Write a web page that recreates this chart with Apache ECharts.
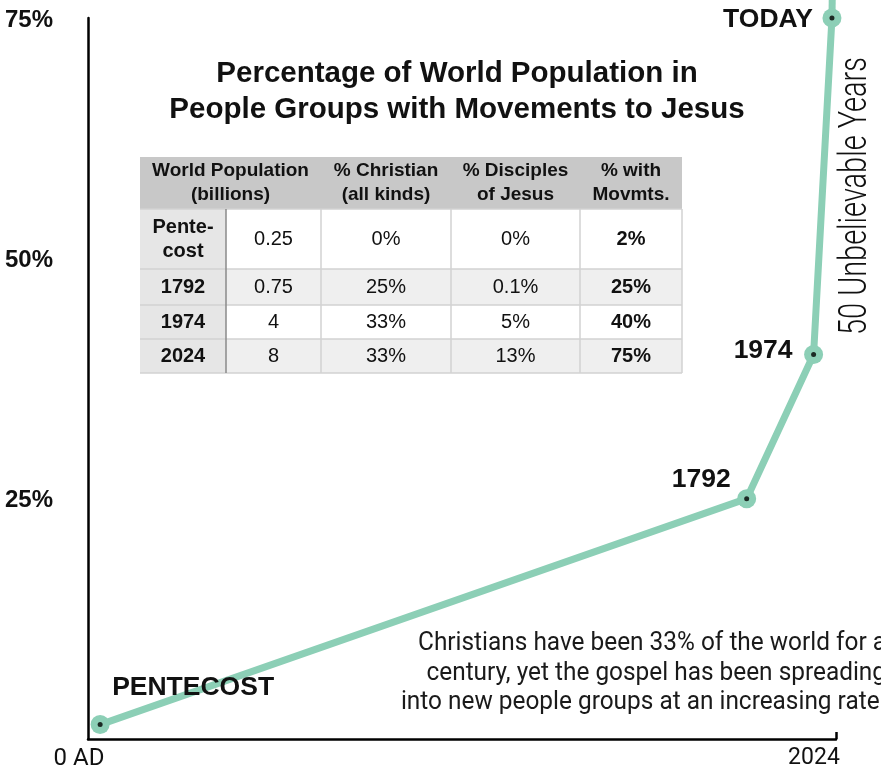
<!DOCTYPE html>
<html>
<head>
<meta charset="utf-8">
<script src="https://cdn.jsdelivr.net/npm/echarts@6/dist/echarts.min.js"></script>
<style>
html,body{margin:0;padding:0;background:#fff;}
#chart{width:881px;height:771px;}
</style>
</head>
<body>
<div id="chart"></div>
<script>
// ---- data ----
const eventNames = ['PENTECOST', '1792', '1974', 'TODAY'];
const eventYears = [33, 1792, 1974, 2024];
const movementPct = [1.5, 25, 40, 75];
// the line keeps rising past the top edge after TODAY
const trendYears = [2024, 2026];
const trendPct = [75, 80];

const xTickLabels = {0: '0 AD', 2024: '2024'};
const yTickValues = [25, 50, 75];

const tableHeaders = ['World Population\n(billions)', '% Christian\n(all kinds)', '% Disciples\nof Jesus', '% with\nMovmts.'];
const tableRowNames = ['Pente-\ncost', '1792', '1974', '2024'];
const worldPopulation = ['0.25', '0.75', '4', '8'];
const pctChristian = ['0%', '25%', '33%', '33%'];
const pctDisciples = ['0%', '0.1%', '5%', '13%'];
const pctMovements = ['2%', '25%', '40%', '75%'];

const titleText = 'Percentage of World Population in\nPeople Groups with Movements to Jesus';
const sideNote = '50 Unbelievable Years';
const noteLines = ['Christians have been 33% of the world for a', 'century, yet the gospel has been spreading', 'into new people groups at an increasing rate.'];

// ---- styling ----
const MINT = '#8ccfb6';
const BOLD = '"Liberation Sans", Arial, Helvetica, sans-serif';
const COND = 'Roboto, "Liberation Sans", sans-serif';

const ctx = document.createElement('canvas').getContext('2d');
function measure(text, font) { ctx.font = font; return ctx.measureText(text).width; }

const noteScale = 468 / measure(noteLines[0], '26px Roboto');
const sideScale = 278 / measure(sideNote, '300 38px Roboto');

const labelOffsets = [
  {align: 'left', offset: [12, -37]},
  {align: 'right', offset: [-16, -19]},
  {align: 'right', offset: [-21, -4]},
  {align: 'right', offset: [-19, 2]}
];

const mainData = eventYears.map((yr, i) => ({
  value: [yr, movementPct[i]],
  name: eventNames[i],
  label: {
    show: true,
    position: 'inside',
    formatter: eventNames[i],
    align: labelOffsets[i].align,
    verticalAlign: 'middle',
    offset: labelOffsets[i].offset,
    fontFamily: BOLD,
    fontWeight: 'bold',
    fontSize: 26.5,
    color: '#111'
  }
}));

// ---- table (graphic) ----
const colEdges = [140, 226, 321, 451, 580, 682];
const rowEdges = [157, 209, 269, 305, 339, 373];
const tableChildren = [];
const tFont = BOLD;
tableChildren.push({type: 'rect', shape: {x: colEdges[0], y: rowEdges[0], width: colEdges[5] - colEdges[0], height: rowEdges[1] - rowEdges[0]}, style: {fill: '#c8c8c8'}});
const headerSpans = [[0, 2], [2, 3], [3, 4], [4, 5]];
headerSpans.forEach((sp, i) => {
  tableChildren.push({type: 'text', style: {
    x: (colEdges[sp[0]] + colEdges[sp[1]]) / 2, y: (rowEdges[0] + rowEdges[1]) / 2,
    text: tableHeaders[i], align: 'center', verticalAlign: 'middle',
    font: 'bold 19px ' + tFont, lineHeight: 24, fill: '#111'
  }});
});
const columns = [tableRowNames, worldPopulation, pctChristian, pctDisciples, pctMovements];
for (let r = 0; r < 4; r++) {
  const y0 = rowEdges[r + 1], y1 = rowEdges[r + 2];
  tableChildren.push({type: 'rect', shape: {x: colEdges[0], y: y0, width: colEdges[5] - colEdges[0], height: y1 - y0}, style: {fill: r % 2 ? '#efefef' : '#ffffff'}});
  tableChildren.push({type: 'rect', shape: {x: colEdges[0], y: y0, width: colEdges[1] - colEdges[0], height: y1 - y0}, style: {fill: '#e6e6e6'}});
  for (let c = 0; c < 5; c++) {
    const bold = (c === 0 || c === 4);
    tableChildren.push({type: 'text', style: {
      x: (colEdges[c] + colEdges[c + 1]) / 2, y: (y0 + y1) / 2,
      text: columns[c][r], align: 'center', verticalAlign: 'middle',
      font: (bold ? 'bold ' : '') + '20px ' + tFont, lineHeight: 24, fill: '#111'
    }});
  }
}
for (let r = 1; r < rowEdges.length; r++) {
  tableChildren.push({type: 'line', shape: {x1: colEdges[0], y1: rowEdges[r], x2: colEdges[5], y2: rowEdges[r]}, style: {stroke: '#d2d2d2', lineWidth: 1.5}});
}
for (let c = 2; c < colEdges.length; c++) {
  tableChildren.push({type: 'line', shape: {x1: colEdges[c], y1: rowEdges[1], x2: colEdges[c], y2: rowEdges[5]}, style: {stroke: '#d2d2d2', lineWidth: 1.5}});
}
tableChildren.push({type: 'line', shape: {x1: colEdges[1], y1: rowEdges[1], x2: colEdges[1], y2: rowEdges[5]}, style: {stroke: '#8a8a8a', lineWidth: 1.5}});

const chart = echarts.init(document.getElementById('chart'));
chart.setOption({
  animation: false,
  backgroundColor: '#fff',
  grid: {left: 88, right: 45, top: 18, bottom: 28, containLabel: false},
  xAxis: {
    type: 'value', min: 0, max: 2035,
    axisLine: {show: true, lineStyle: {color: '#000', width: 2.5}},
    axisTick: {show: true, customValues: [2035], inside: true, length: 7, lineStyle: {color: '#000', width: 2.5}},
    splitLine: {show: false},
    axisLabel: {
      show: true, customValues: [0, 2024], margin: 8,
      formatter: v => v === 0 ? '{a|' + xTickLabels[0] + '}' : '{b|' + xTickLabels[2024] + '}',
      rich: {
        a: {fontFamily: COND, fontSize: 24, color: '#111', padding: [0, 18, 0, 0]},
        b: {fontFamily: COND, fontSize: 23, color: '#111', padding: [0, 36, 0, 0]}
      }
    }
  },
  yAxis: {
    type: 'value', min: 0, max: 75, interval: 25,
    axisLine: {show: true, lineStyle: {color: '#000', width: 2.5}},
    axisTick: {show: false},
    splitLine: {show: false},
    axisLabel: {
      show: true, align: 'left', margin: 83,
      formatter: v => yTickValues.indexOf(v) >= 0 ? '{p|' + v + '%}' : '',
      rich: {p: {fontFamily: BOLD, fontWeight: 'bold', fontSize: 24, color: '#111', padding: [4, 0, 0, 0]}}
    }
  },
  series: [
    {
      type: 'line', clip: false, silent: true, symbol: 'none', z: 1,
      data: trendYears.map((yr, i) => [yr, trendPct[i]]),
      lineStyle: {color: MINT, width: 7}
    },
    {
      type: 'line', clip: false, z: 2,
      data: mainData,
      symbol: 'circle', symbolSize: 19,
      itemStyle: {color: MINT},
      lineStyle: {color: MINT, width: 7}
    },
    {
      type: 'scatter', z: 3, silent: true,
      data: eventYears.map((yr, i) => [yr, movementPct[i]]),
      symbol: 'circle', symbolSize: 5,
      itemStyle: {color: '#000'}
    }
  ],
  graphic: [
    {type: 'text', x: 457, y: 92, style: {text: titleText, align: 'center', verticalAlign: 'middle', font: 'bold 29.5px ' + BOLD, lineHeight: 36, fill: '#111'}},
    {type: 'group', children: tableChildren},
    {type: 'text', x: 856, y: 196, rotation: Math.PI / 2, scaleX: sideScale, style: {text: sideNote, align: 'center', verticalAlign: 'middle', font: '300 38px Roboto', fill: '#111'}},
    {type: 'text', x: 886, y: 673, scaleX: noteScale, style: {text: noteLines.join('\n'), align: 'right', verticalAlign: 'middle', font: '26px Roboto', lineHeight: 29.5, fill: '#1a1a1a'}}
  ]
});
</script>
</body>
</html>
